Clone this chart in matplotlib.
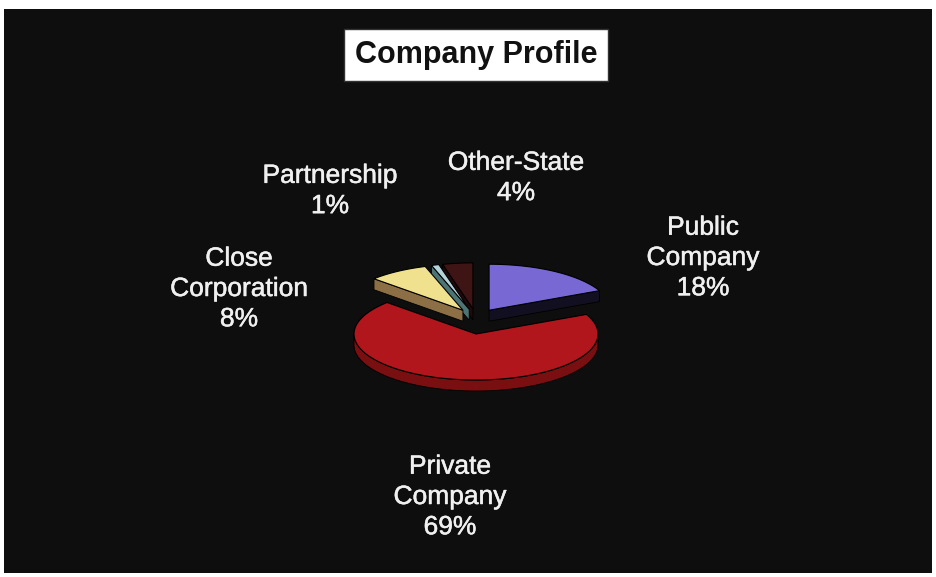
import numpy as np
import matplotlib.pyplot as plt
import matplotlib.patheffects as pe
from matplotlib.patches import Polygon, Rectangle

plt.rcParams['font.family'] = ['Liberation Sans', 'DejaVu Sans']

# slices in counter-clockwise order starting at 12 o'clock
labels = ['Other-State', 'Partnership', 'Close\nCorporation', 'Private\nCompany', 'Public\nCompany']
shares = [4, 1, 8, 69, 18]
tops = ['#3e1414', '#b4d2da', '#efe18e', '#b0161b', '#7868d4']
sides = ['#220909', '#4d7474', '#8c6f45', '#7a0f12', '#121020']
label_pos = [(516, 178), (330, 191), (239, 289), (450, 497), (703, 258)]

W, H = 936, 577
fig = plt.figure(figsize=(W / 100, H / 100), dpi=100)
fig.patch.set_facecolor('white')
ax = fig.add_axes([0, 0, 1, 1])
ax.set_xlim(0, W)
ax.set_ylim(H, 0)
ax.axis('off')
ax.add_patch(Rectangle((4, 9), 928, 564, facecolor='#0e0e0e', edgecolor='none'))

cx, cy, rx, ry, depth = 476, 334, 122, 46, 11
lift, explode = 16, 0.2


def pt(t, dx, dy, dz=0):
    return (cx + dx + rx * np.cos(t), cy + dy - ry * np.sin(t) + dz)


def draw_slice(a1, a2, top, side, dx, dy):
    ts = np.radians(np.linspace(a1, a2, 120))
    # outer rim, front half only
    front = ts[np.sin(ts) < 0]
    if len(front) > 1:
        rim = [pt(t, dx, dy) for t in front] + [pt(t, dx, dy, depth) for t in front[::-1]]
        ax.add_patch(Polygon(rim, closed=True, facecolor=side, edgecolor='black', lw=0.6))
    # cut faces that turn toward the viewer
    c0 = (cx + dx, cy + dy)
    for a, n in ((a1, a1 - 90), (a2, a2 + 90)):
        if np.sin(np.radians(n)) < -1e-6:
            e = pt(np.radians(a), dx, dy)
            face = [c0, e, (e[0], e[1] + depth), (c0[0], c0[1] + depth)]
            ax.add_patch(Polygon(face, closed=True, facecolor=side, edgecolor='black', lw=0.6))
    surf = [c0] + [pt(t, dx, dy) for t in ts]
    ax.add_patch(Polygon(surf, closed=True, facecolor=top, edgecolor='black', lw=0.8))


edges = 90 + 360 * np.concatenate([[0], np.cumsum(shares)]) / sum(shares)
order = [3, 0, 1, 2, 4]  # bottom slice first, lifted slices over it
for i in order:
    a1, a2 = edges[i], edges[i + 1]
    if i == 3:
        dx, dy = 0, 0
    else:
        mid = np.radians((a1 + a2) / 2)
        dx = explode * rx * np.cos(mid)
        dy = -explode * ry * np.sin(mid) - lift
    draw_slice(a1, a2, tops[i], sides[i], dx, dy)

for lab, v, (x, y) in zip(labels, shares, label_pos):
    ax.text(x, y, f'{lab}\n{v}%', color='#f0f0f0', fontsize=19, ha='center', va='center',
            linespacing=1.33,
            path_effects=[pe.withStroke(linewidth=0.35, foreground='#f0f0f0')])

ax.text(476, 55, 'Company Profile', fontsize=22, fontweight='bold', color='#111111',
        ha='center', va='center',
        bbox=dict(boxstyle='square,pad=0.36', facecolor='white', edgecolor='#333333', lw=1))

fig.savefig('out.png', dpi=100, facecolor=fig.get_facecolor())
